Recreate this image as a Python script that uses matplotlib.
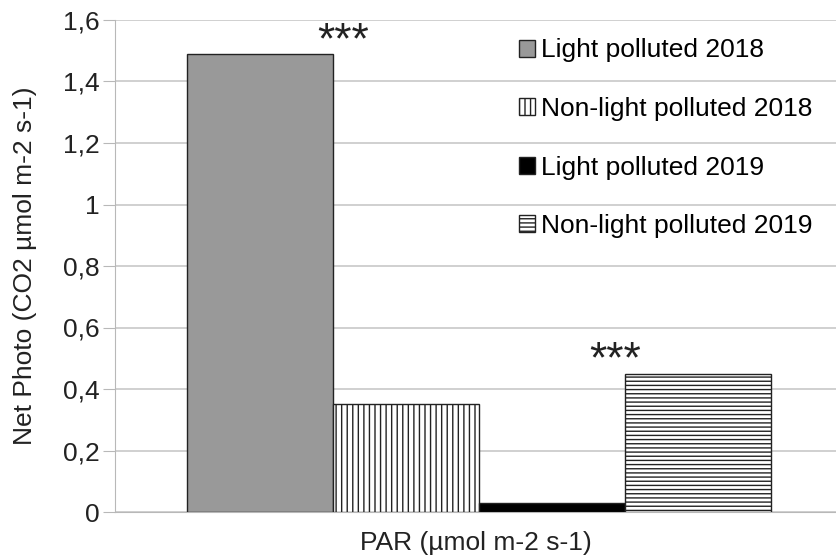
import numpy as np
import matplotlib.pyplot as plt
from matplotlib.ticker import FuncFormatter

plt.rcParams['font.family'] = ['Liberation Sans', 'DejaVu Sans']
plt.rcParams['hatch.linewidth'] = 1.0

# datos
series = ['Light polluted 2018', 'Non-light polluted 2018',
          'Light polluted 2019', 'Non-light polluted 2019']
valores = [1.49, 0.35, 0.03, 0.45]
estilos = [
    {'color': '#999999', 'hatch': None},
    {'color': 'white', 'hatch': '|||'},
    {'color': 'black', 'hatch': None},
    {'color': 'white', 'hatch': '----'},
]
# asteriscos de significancia: (posición x, y)
signif = [(0.57, 1.545), (2.43, 0.507)]

fig = plt.figure(figsize=(8.37, 5.57), dpi=100)
ax = fig.add_axes([115 / 837, 1 - 512 / 557, (837 - 115) / 837, (512 - 20) / 557])

x = np.arange(len(valores))
for xi, v, est, nombre in zip(x, valores, estilos, series):
    ax.bar(xi, v, width=1.0, color=est['color'], hatch=est['hatch'],
           edgecolor='#222222', linewidth=1.0, label=nombre, zorder=3)

for sx, sy in signif:
    ax.text(sx, sy, '***', ha='center', va='center_baseline', fontsize=32,
            color='#222222')

ax.set_ylim(0, 1.6)
ax.set_yticks(np.arange(0, 1.61, 0.2))
ax.yaxis.set_major_formatter(FuncFormatter(
    lambda v, p: ('%g' % round(v, 1)).replace('.', ',')))
ax.set_xlim(-0.993, 3.952)
ax.set_xticks([])
ax.grid(axis='y', color='#c8c8c8', linewidth=1.2, zorder=0)
for lado in ['top', 'right']:
    ax.spines[lado].set_visible(False)
ax.spines['left'].set_color('#b8b8b8')
ax.spines['bottom'].set_color('#b8b8b8')
ax.tick_params(axis='y', length=9, color='#b8b8b8', labelsize=19,
               labelcolor='#222222', pad=2)

ax.set_ylabel('Net Photo (CO2 µmol m-2 s-1)', fontsize=19, color='#222222', labelpad=19)
ax.set_xlabel('PAR (µmol m-2 s-1)', fontsize=19, color='#222222', labelpad=14)

ax.legend(loc='upper left', bbox_to_anchor=(0.534, 1.0), frameon=False,
          fontsize=19, handlelength=0.6, handleheight=0.6, handletextpad=0.25,
          labelspacing=1.31, borderaxespad=0.3)

fig.savefig('out.png', dpi=100)
